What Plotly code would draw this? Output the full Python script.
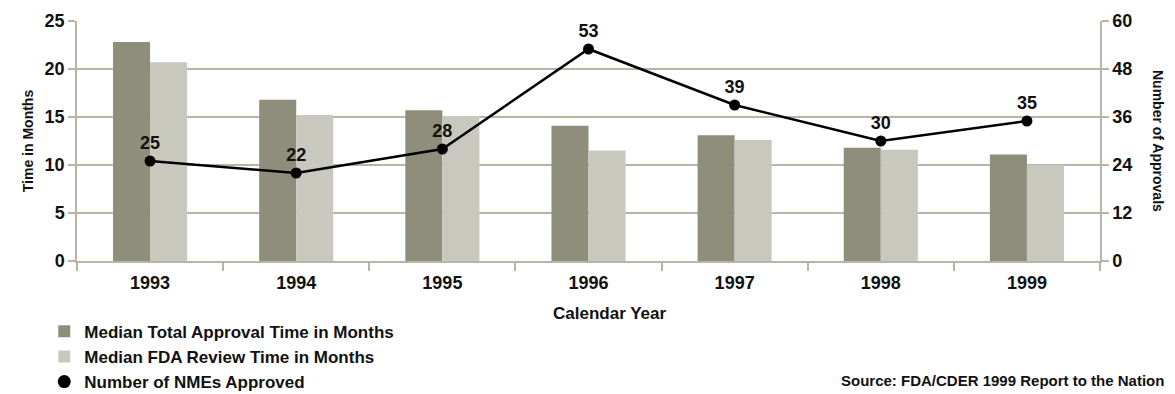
import plotly.graph_objects as go

years = ["1993", "1994", "1995", "1996", "1997", "1998", "1999"]
total_approval_months = [22.8, 16.8, 15.7, 14.1, 13.1, 11.8, 11.1]
fda_review_months = [20.7, 15.2, 15.1, 11.5, 12.6, 11.6, 10.0]
nmes_approved = [25, 22, 28, 53, 39, 30, 35]

DARK = "#8f8e7b"
LIGHT = "#c8c8bf"
GRID = "#b7b6a5"
FONT = "Liberation Sans, Arial, sans-serif"
NARROW = "Liberation Sans Narrow, Arial Narrow, Liberation Sans, Arial, sans-serif"

fig = go.Figure()
fig.add_trace(go.Bar(
    x=years, y=total_approval_months, name="Median Total Approval Time in Months",
    marker=dict(color=DARK, line=dict(width=0)),
))
fig.add_trace(go.Bar(
    x=years, y=fda_review_months, name="Median FDA Review Time in Months",
    marker=dict(color=LIGHT, line=dict(width=0)),
))
fig.add_trace(go.Scatter(
    x=years, y=nmes_approved, yaxis="y2", mode="lines+markers+text",
    text=[str(v) for v in nmes_approved], textposition="top center",
    textfont=dict(family=FONT, size=18, color="#111111", weight="bold"),
    line=dict(color="black", width=2.5),
    marker=dict(color="black", size=11),
    showlegend=False, cliponaxis=False,
))
# legend entry showing only the dot
fig.add_trace(go.Scatter(
    x=[None], y=[None], mode="markers", name="Number of NMEs Approved",
    marker=dict(color="black", size=13),
))

axis_font = dict(family=FONT, size=18, color="#111111", weight="bold")

fig.update_layout(
    width=1175, height=394,
    margin=dict(l=77, r=75, t=21, b=133, autoexpand=False),
    paper_bgcolor="white", plot_bgcolor="white",
    barmode="group", bargap=0.493, bargroupgap=0,
    showlegend=True,
    legend=dict(
        x=-0.032, xanchor="left", y=-0.22, yanchor="top",
        orientation="v", traceorder="normal",
        font=dict(family=FONT, size=17, color="#111111", weight="bold"),
        bgcolor="rgba(0,0,0,0)", tracegroupgap=0, itemwidth=30,
    ),
    xaxis=dict(
        showline=True, linecolor=GRID, linewidth=1.5,
        ticks="outside", tickson="boundaries", ticklen=8, tickcolor=GRID, tickwidth=1.5,
        ticklabelstandoff=5,
        tickfont=dict(family=NARROW, size=18, color="#111111", weight="bold"),
        showgrid=False,
    ),
    yaxis=dict(
        range=[0, 25], dtick=5,
        showline=True, linecolor=GRID, linewidth=1.5,
        ticks="outside", ticklen=7, tickcolor=GRID, tickwidth=1.5,
        showgrid=True, gridcolor=GRID, gridwidth=1.5, zeroline=False,
        tickfont=axis_font,
        title=dict(text="Time in Months", standoff=8,
                   font=dict(family=FONT, size=14, color="#111111", weight="bold")),
    ),
    yaxis2=dict(
        range=[0, 60], dtick=12, overlaying="y", side="right",
        showline=True, linecolor=GRID, linewidth=1.5,
        ticks="outside", ticklen=7, tickcolor=GRID, tickwidth=1.5,
        showgrid=False, zeroline=False,
        tickfont=axis_font,
    ),
    annotations=[
        dict(text="Calendar Year",
             xref="paper", yref="paper", x=(609 - 77) / 1023, y=-(313 - 261) / 240,
             xanchor="center", yanchor="middle", showarrow=False,
             font=dict(family=NARROW, size=17, color="#111111", weight="bold")),
        dict(text="Number of Approvals", textangle=90,
             xref="paper", yref="paper", x=1.0 + (1158 - 1100) / 1023, y=0.5,
             xanchor="center", yanchor="middle", showarrow=False,
             font=dict(family=FONT, size=14, color="#111111", weight="bold")),
        dict(text="Source: FDA/CDER 1999 Report to the Nation",
             xref="paper", yref="paper", x=1.0 + (1166 - 1100) / 1023, y=-0.496,
             xanchor="right", yanchor="middle", showarrow=False,
             font=dict(family=FONT, size=15, color="#111111", weight="bold")),
    ],
)

fig.write_html("out.html")
